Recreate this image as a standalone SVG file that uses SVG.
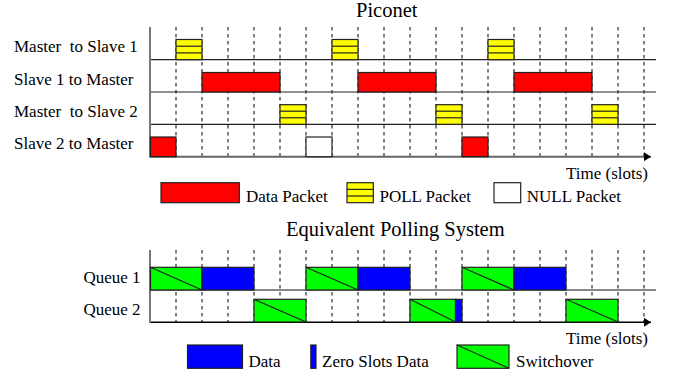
<svg xmlns="http://www.w3.org/2000/svg" width="673" height="378" viewBox="0 0 673 378">
<defs>
<style>
text{font-family:"Liberation Serif","Times New Roman",serif;font-size:17px;fill:#000;white-space:pre}
.title{font-size:20.5px}
.grid{stroke:#000;stroke-width:1;stroke-dasharray:3.5,3.5}
.axisv{stroke:#777;stroke-width:2}
.base{stroke:#222;stroke-width:1.2}
.baseg{stroke:#888;stroke-width:2}
.axis{stroke:#666;stroke-width:2}
.axisb{stroke:#000;stroke-width:1.5}
.pkt{stroke:#222;stroke-width:1.2}
.red{fill:#ff0000}
.yel{fill:#ffff00}
.nul{fill:#fff}
.grn{fill:#00ff00}
.blu{fill:#0000ff}
.div{stroke:#222;stroke-width:1.2}
</style>
<marker id="arr" markerWidth="8" markerHeight="9" refX="7" refY="4.5" orient="auto" markerUnits="userSpaceOnUse">
<path d="M0,0 L7,4.5 L0,9 Z" fill="#000"/>
</marker>
</defs>
<rect width="673" height="378" fill="#fff"/>

<text class="title" x="356" y="17">Piconet</text>
<g id="labels-top">
<text x="14" y="52">Master  to Slave 1</text>
<text x="14" y="84.5">Slave 1 to Master</text>
<text x="14" y="116.5">Master  to Slave 2</text>
<text x="14" y="149">Slave 2 to Master</text>
</g>

<g id="grid-top">
<line class="grid" x1="176" y1="27" x2="176" y2="157"/>
<line class="grid" x1="202" y1="27" x2="202" y2="157"/>
<line class="grid" x1="228" y1="27" x2="228" y2="157"/>
<line class="grid" x1="254" y1="27" x2="254" y2="157"/>
<line class="grid" x1="280" y1="27" x2="280" y2="157"/>
<line class="grid" x1="306" y1="27" x2="306" y2="157"/>
<line class="grid" x1="332" y1="27" x2="332" y2="157"/>
<line class="grid" x1="358" y1="27" x2="358" y2="157"/>
<line class="grid" x1="384" y1="27" x2="384" y2="157"/>
<line class="grid" x1="410" y1="27" x2="410" y2="157"/>
<line class="grid" x1="436" y1="27" x2="436" y2="157"/>
<line class="grid" x1="462" y1="27" x2="462" y2="157"/>
<line class="grid" x1="488" y1="27" x2="488" y2="157"/>
<line class="grid" x1="514" y1="27" x2="514" y2="157"/>
<line class="grid" x1="540" y1="27" x2="540" y2="157"/>
<line class="grid" x1="566" y1="27" x2="566" y2="157"/>
<line class="grid" x1="592" y1="27" x2="592" y2="157"/>
<line class="grid" x1="618" y1="27" x2="618" y2="157"/>
<line class="grid" x1="644" y1="27" x2="644" y2="157"/>
</g>

<g id="connectors-top">
<line class="base" x1="150" y1="59.7" x2="656" y2="59.7"/>
<line class="base" x1="150" y1="92" x2="656" y2="92"/>
<line class="base" x1="150" y1="124.3" x2="656" y2="124.3"/>
<line class="axis" x1="150" y1="156.7" x2="651" y2="156.7" marker-end="url(#arr)"/>
<line class="axisv" x1="150" y1="27" x2="150" y2="157.5"/>
</g>

<g id="m2s1">
<g><rect class="pkt yel" x="176" y="39.5" width="26" height="20.2"/><line class="div" x1="176" y1="46.2" x2="202" y2="46.2"/><line class="div" x1="176" y1="52.9" x2="202" y2="52.9"/></g>
<g><rect class="pkt yel" x="332" y="39.5" width="26" height="20.2"/><line class="div" x1="332" y1="46.2" x2="358" y2="46.2"/><line class="div" x1="332" y1="52.9" x2="358" y2="52.9"/></g>
<g><rect class="pkt yel" x="488" y="39.5" width="26" height="20.2"/><line class="div" x1="488" y1="46.2" x2="514" y2="46.2"/><line class="div" x1="488" y1="52.9" x2="514" y2="52.9"/></g>
</g>
<g id="s12m">
<rect class="pkt red" x="202" y="72.5" width="78" height="19.5"/>
<rect class="pkt red" x="358" y="72.5" width="78" height="19.5"/>
<rect class="pkt red" x="514" y="72.5" width="78" height="19.5"/>
</g>
<g id="m2s2">
<g><rect class="pkt yel" x="280" y="104.7" width="26" height="19.6"/><line class="div" x1="280" y1="111.2" x2="306" y2="111.2"/><line class="div" x1="280" y1="117.8" x2="306" y2="117.8"/></g>
<g><rect class="pkt yel" x="436" y="104.7" width="26" height="19.6"/><line class="div" x1="436" y1="111.2" x2="462" y2="111.2"/><line class="div" x1="436" y1="117.8" x2="462" y2="117.8"/></g>
<g><rect class="pkt yel" x="592" y="104.7" width="26" height="19.6"/><line class="div" x1="592" y1="111.2" x2="618" y2="111.2"/><line class="div" x1="592" y1="117.8" x2="618" y2="117.8"/></g>
</g>
<g id="s22m">
<rect class="pkt red" x="150.5" y="137" width="25.5" height="19.7"/>
<rect class="pkt nul" x="306" y="137" width="26" height="19.7"/>
<rect class="pkt red" x="462" y="137" width="26" height="19.7"/>
</g>

<text x="566" y="178.5">Time (slots)</text>

<g id="legend-top">
<rect class="pkt red" x="161" y="182.7" width="78.3" height="20"/>
<text x="246" y="201.5">Data Packet</text>
<rect class="pkt yel" x="347" y="182.7" width="26.3" height="20"/>
<line class="div" x1="347" y1="189.4" x2="373.3" y2="189.4"/>
<line class="div" x1="347" y1="196" x2="373.3" y2="196"/>
<text x="379.5" y="201.5">POLL Packet</text>
<rect class="pkt nul" x="494" y="182.7" width="26.7" height="20"/>
<text x="526.8" y="201.5">NULL Packet</text>
</g>

<text class="title" x="286" y="236">Equivalent Polling System</text>
<g id="labels-bottom">
<text x="83.5" y="283.3">Queue 1</text>
<text x="83.5" y="315">Queue 2</text>
</g>

<g id="grid-bottom">
<line class="grid" x1="176" y1="250" x2="176" y2="322"/>
<line class="grid" x1="202" y1="250" x2="202" y2="322"/>
<line class="grid" x1="228" y1="250" x2="228" y2="322"/>
<line class="grid" x1="254" y1="250" x2="254" y2="322"/>
<line class="grid" x1="280" y1="250" x2="280" y2="322"/>
<line class="grid" x1="306" y1="250" x2="306" y2="322"/>
<line class="grid" x1="332" y1="250" x2="332" y2="322"/>
<line class="grid" x1="358" y1="250" x2="358" y2="322"/>
<line class="grid" x1="384" y1="250" x2="384" y2="322"/>
<line class="grid" x1="410" y1="250" x2="410" y2="322"/>
<line class="grid" x1="436" y1="250" x2="436" y2="322"/>
<line class="grid" x1="462" y1="250" x2="462" y2="322"/>
<line class="grid" x1="488" y1="250" x2="488" y2="322"/>
<line class="grid" x1="514" y1="250" x2="514" y2="322"/>
<line class="grid" x1="540" y1="250" x2="540" y2="322"/>
<line class="grid" x1="566" y1="250" x2="566" y2="322"/>
<line class="grid" x1="592" y1="250" x2="592" y2="322"/>
<line class="grid" x1="618" y1="250" x2="618" y2="322"/>
<line class="grid" x1="644" y1="250" x2="644" y2="322"/>
</g>

<g id="connectors-bottom">
<line class="baseg" x1="150" y1="290" x2="656" y2="290"/>
<line class="axisb" x1="150" y1="322.3" x2="651" y2="322.3" marker-end="url(#arr)"/>
<line class="axisv" x1="150" y1="250" x2="150" y2="323"/>
</g>

<g id="queue1">
<rect class="pkt grn" x="150.5" y="267.3" width="51.5" height="22.7"/><line class="div" x1="150.5" y1="267.3" x2="202" y2="290"/>
<rect class="pkt blu" x="202" y="267.3" width="52" height="22.7"/>
<rect class="pkt grn" x="306" y="267.3" width="52" height="22.7"/><line class="div" x1="306" y1="267.3" x2="358" y2="290"/>
<rect class="pkt blu" x="358" y="267.3" width="52" height="22.7"/>
<rect class="pkt grn" x="462" y="267.3" width="52" height="22.7"/><line class="div" x1="462" y1="267.3" x2="514" y2="290"/>
<rect class="pkt blu" x="514" y="267.3" width="52" height="22.7"/>
</g>
<g id="queue2">
<rect class="pkt grn" x="254" y="299.3" width="52" height="22.7"/><line class="div" x1="254" y1="299.3" x2="306" y2="322"/>
<rect class="pkt grn" x="410" y="299.3" width="45.5" height="22.7"/><line class="div" x1="410" y1="299.3" x2="455.5" y2="322"/>
<rect class="pkt blu" x="455.5" y="299.3" width="6.5" height="22.7"/>
<rect class="pkt grn" x="566" y="299.3" width="52" height="22.7"/><line class="div" x1="566" y1="299.3" x2="618" y2="322"/>
</g>

<text x="566" y="343.5">Time (slots)</text>

<g id="legend-bottom">
<rect class="pkt blu" x="187.5" y="345" width="55" height="23.3"/>
<text x="248.5" y="367">Data</text>
<rect class="pkt blu" x="310.8" y="345" width="5.2" height="23.3"/>
<text x="322" y="367">Zero Slots Data</text>
<rect class="pkt grn" x="457" y="345" width="52" height="23.3"/>
<line class="div" x1="457" y1="345" x2="509" y2="368.3"/>
<text x="516" y="367">Switchover</text>
</g>
</svg>
